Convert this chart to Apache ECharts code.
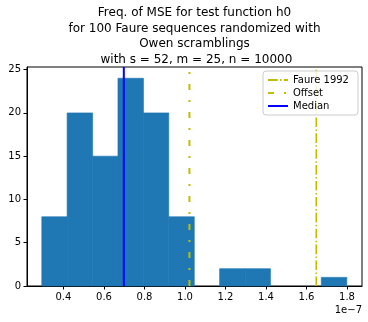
<!DOCTYPE html>
<html>
<head>
<meta charset="utf-8">
<title>Freq. of MSE</title>
<script src="https://cdn.jsdelivr.net/npm/echarts@6/dist/echarts.min.js"></script>
<style>
  html, body { margin: 0; padding: 0; background: #fff; }
  #main { width: 368px; height: 322px; }
</style>
</head>
<body>
<div id="main"></div>
<script>
// histogram bin edges (units of 1e-7) and counts
var binEdges = [0.293, 0.418, 0.544, 0.669, 0.795, 0.920, 1.046, 1.171, 1.297, 1.422, 1.548, 1.673, 1.799];
var counts = [8, 20, 15, 24, 20, 8, 0, 2, 2, 0, 0, 1];
// reference lines
var faure1992 = 1.648;
var offset = 1.022;
var median = 0.698;
var xTicks = [0.4, 0.6, 0.8, 1.0, 1.2, 1.4, 1.6, 1.8];
var yTicks = [0, 5, 10, 15, 20, 25];

var FONT = 'DejaVu Sans';
var bins = counts.map(function (c, i) { return [binEdges[i], binEdges[i + 1], c]; });

var chart = echarts.init(document.getElementById('main'));

var option = {
    animation: false,
    backgroundColor: '#fff',
    textStyle: { fontFamily: FONT },
    grid: { left: 27, right: 6, top: 67, bottom: 36, show: true, borderColor: '#000', borderWidth: 1 },
    graphic: [{
        type: 'text',
        x: 194.5, y: 5,
        style: {
            text: 'Freq. of MSE for test function h0\nfor 100 Faure sequences randomized with\nOwen scramblings\n with s = 52, m = 25, n = 10000',
            font: '12px "DejaVu Sans"',
            lineHeight: 15.7,
            textAlign: 'center',
            textVerticalAlign: 'top',
            fill: '#000'
        }
    }, {
        type: 'text',
        right: 6, top: 305,
        style: { text: '1e\u22127', font: '10px "DejaVu Sans"', fill: '#000' }
    }],
    legend: {
        left: 263, top: 71,
        orient: 'vertical',
        itemWidth: 20, itemHeight: 12, itemGap: 3,
        padding: [4, 9, 4, 4],
        backgroundColor: 'rgba(255,255,255,0.8)',
        borderColor: '#ccc', borderWidth: 1, borderRadius: 3,
        itemStyle: { color: 'rgba(0,0,0,0)', borderColor: 'rgba(0,0,0,0)', borderWidth: 0 },
        textStyle: { fontFamily: FONT, fontSize: 10, color: '#000' },
        data: ['Faure 1992', 'Offset', 'Median']
    },
    xAxis: {
        type: 'value', min: 0.22, max: 1.874,
        splitLine: { show: false },
        axisLine: { show: true, onZero: false, lineStyle: { color: '#000', width: 1 } },
        axisTick: { show: true, customValues: xTicks, length: 3.5, lineStyle: { color: '#000' } },
        axisLabel: {
            customValues: xTicks, margin: 6, color: '#000', fontSize: 10, fontFamily: FONT,
            formatter: function (v) { return v.toFixed(1); }
        }
    },
    yAxis: {
        type: 'value', min: 0, max: 25.3,
        splitLine: { show: false },
        axisLine: { show: true, lineStyle: { color: '#000', width: 1 } },
        axisTick: { show: true, customValues: yTicks, length: 3.5, lineStyle: { color: '#000' } },
        axisLabel: { customValues: yTicks, margin: 6, color: '#000', fontSize: 10, fontFamily: FONT }
    },
    series: [{
        type: 'custom',
        name: 'hist',
        z: 1,
        data: bins,
        encode: { x: [0, 1], y: 2 },
        renderItem: function (params, api) {
            if (!api.value(2)) return null;
            var p0 = api.coord([api.value(0), api.value(2)]);
            var p1 = api.coord([api.value(1), 0]);
            return {
                type: 'rect',
                shape: { x: p0[0], y: p0[1], width: p1[0] - p0[0], height: p1[1] - p0[1] },
                style: { fill: '#1f77b4', stroke: '#1f77b4', lineWidth: 0.6 }
            };
        }
    }, {
        type: 'line', name: 'Faure 1992', symbol: 'none', z: 3,
        data: [[faure1992, 0], [faure1992, 25.3]],
        lineStyle: { color: '#bfbf00', width: 1.5, type: [9.6, 2.4, 1.5, 2.4] },
        itemStyle: { color: '#bfbf00' }
    }, {
        type: 'line', name: 'Offset', symbol: 'none', z: 3,
        data: [[offset, 0], [offset, 25.3]],
        lineStyle: { color: '#bfbf00', width: 2, type: [6, 10, 2, 10] },
        itemStyle: { color: '#bfbf00' }
    }, {
        type: 'line', name: 'Median', symbol: 'none', z: 3,
        data: [[median, 0], [median, 25.3]],
        lineStyle: { color: '#0000ff', width: 2, type: 'solid' },
        itemStyle: { color: '#0000ff' }
    }]
};

chart.setOption(option);
</script>
</body>
</html>
